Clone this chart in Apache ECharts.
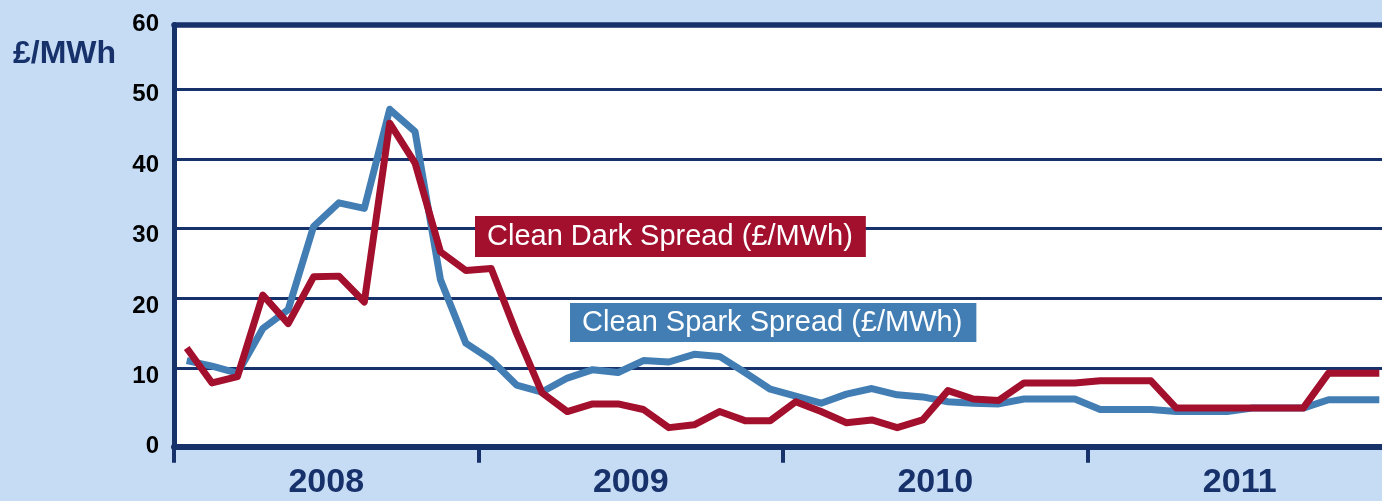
<!DOCTYPE html>
<html>
<head>
<meta charset="utf-8">
<title>Clean Dark / Clean Spark Spread</title>
<script src="https://cdn.jsdelivr.net/npm/echarts@6/dist/echarts.min.js"></script>
<style>
    html, body { margin: 0; padding: 0; background: #c6dcf4; overflow: hidden; }
    #chart { width: 1382px; height: 501px; }
</style>
</head>
<body>
<div id="chart"></div>
<script>
    // 年份 / 月份
    const years = ['2008', '2009', '2010', '2011']
    const monthNames = ['Jan', 'Feb', 'Mar', 'Apr', 'May', 'Jun', 'Jul', 'Aug', 'Sep', 'Oct', 'Nov', 'Dec']
    const months = []
    years.forEach(y => monthNames.forEach(m => months.push(m + ' ' + y)))

    const yTicks = [0, 10, 20, 30, 40, 50, 60]

    // £/MWh, monthly
    const darkSpread = [
        12.9, 7.9, 8.8, 20.5, 16.4, 23.1, 23.2, 19.5, 45.1, 39.4, 26.7, 24.0,
        24.3, 15.0, 6.5, 3.8, 4.9, 4.9, 4.1, 1.5, 1.9, 3.8, 2.5, 2.5,
        5.2, 3.8, 2.2, 2.6, 1.5, 2.6, 6.8, 5.6, 5.4, 7.9, 7.9, 7.9,
        8.2, 8.2, 8.2, 4.3, 4.3, 4.3, 4.3, 4.3, 4.3, 9.3, 9.3, 9.3
    ]
    const sparkSpread = [
        11.1, 10.3, 9.3, 15.7, 18.4, 30.3, 33.7, 32.9, 47.1, 43.9, 22.7, 13.6,
        11.2, 7.6, 6.6, 8.6, 9.8, 9.4, 11.1, 10.9, 12.0, 11.7, 9.4, 7.0,
        6.0, 5.0, 6.3, 7.1, 6.2, 5.9, 5.2, 5.0, 4.9, 5.6, 5.6, 5.6,
        4.1, 4.1, 4.1, 3.8, 3.8, 3.8, 4.3, 4.3, 4.3, 5.5, 5.5, 5.5
    ]

    const navy = '#17316b'
    const red = '#a3102d'
    const blue = '#427eb4'
    const font = "'Liberation Sans', Arial, sans-serif"
    // 图表比窗口宽，右边被裁掉
    const plotWidth = 1218

    const chart = echarts.init(document.getElementById('chart'))
    chart.setOption({
        backgroundColor: '#c6dcf4',
        animation: false,
        textStyle: { fontFamily: font },
        title: {
            text: '£/MWh',
            left: 13,
            top: 38,
            padding: 0,
            textStyle: { color: navy, fontSize: 32, fontWeight: 'bold', fontFamily: font }
        },
        legend: [
            {
                data: ['Clean Dark Spread (£/MWh)'],
                left: 470,
                top: 216,
                padding: 0,
                icon: 'none',
                itemWidth: 0,
                selectedMode: false,
                textStyle: {
                    color: '#fff', fontSize: 29, fontFamily: font, lineHeight: 30,
                    backgroundColor: red, padding: [5, 13, 6, 12]
                }
            },
            {
                data: ['Clean Spark Spread (£/MWh)'],
                left: 565,
                top: 303,
                padding: 0,
                icon: 'none',
                itemWidth: 0,
                selectedMode: false,
                textStyle: {
                    color: '#fff', fontSize: 29, fontFamily: font, lineHeight: 30,
                    backgroundColor: blue, padding: [4, 14, 5, 12]
                }
            }
        ],
        grid: [
            // 外框 + 刻度标签
            {
                left: 174, width: plotWidth, top: 24.5, bottom: 54.3, outerBoundsMode: 'none',
                show: true, backgroundColor: '#fff', borderWidth: 0
            },
            // 数据
            { left: 174, width: plotWidth, top: 19.2, bottom: 62.9, outerBoundsMode: 'none' }
        ],
        xAxis: [
            {
                gridIndex: 0,
                type: 'category',
                data: years,
                position: 'bottom',
                axisLine: { lineStyle: { color: navy, width: 6 } },
                axisTick: { show: true, length: 16, lineStyle: { color: navy, width: 4 } },
                axisLabel: { color: navy, fontSize: 34, fontWeight: 'bold', fontFamily: font, margin: 19 },
                splitLine: { show: false }
            },
            {
                gridIndex: 0,
                type: 'category',
                data: years,
                position: 'top',
                axisLine: { lineStyle: { color: navy, width: 5.5 } },
                axisTick: { show: false },
                axisLabel: { show: false },
                splitLine: { show: false }
            },
            {
                gridIndex: 1,
                type: 'category',
                data: months,
                boundaryGap: true,
                show: false
            }
        ],
        yAxis: [
            {
                gridIndex: 0,
                type: 'value',
                min: yTicks[0],
                max: yTicks[yTicks.length - 1],
                interval: 10,
                axisLine: { show: true, lineStyle: { color: navy, width: 5 } },
                axisTick: { show: false },
                axisLabel: { color: '#000', fontSize: 24, fontWeight: 'bold', fontFamily: font, margin: 15 },
                splitLine: { show: false }
            },
            {
                gridIndex: 1,
                type: 'value',
                min: yTicks[0],
                max: yTicks[yTicks.length - 1],
                interval: 10,
                axisLine: { show: false },
                axisTick: { show: false },
                axisLabel: { show: false },
                splitLine: { show: true, showMinLine: false, showMaxLine: false, lineStyle: { color: navy, width: 3 } }
            }
        ],
        series: [
            {
                name: 'Clean Spark Spread (£/MWh)',
                type: 'line',
                xAxisIndex: 2,
                yAxisIndex: 1,
                data: sparkSpread,
                symbol: 'none',
                color: blue,
                lineStyle: { color: blue, width: 7, join: 'round' }
            },
            {
                name: 'Clean Dark Spread (£/MWh)',
                type: 'line',
                xAxisIndex: 2,
                yAxisIndex: 1,
                data: darkSpread,
                symbol: 'none',
                color: red,
                lineStyle: { color: red, width: 7, join: 'round' }
            }
        ]
    })
</script>
</body>
</html>
